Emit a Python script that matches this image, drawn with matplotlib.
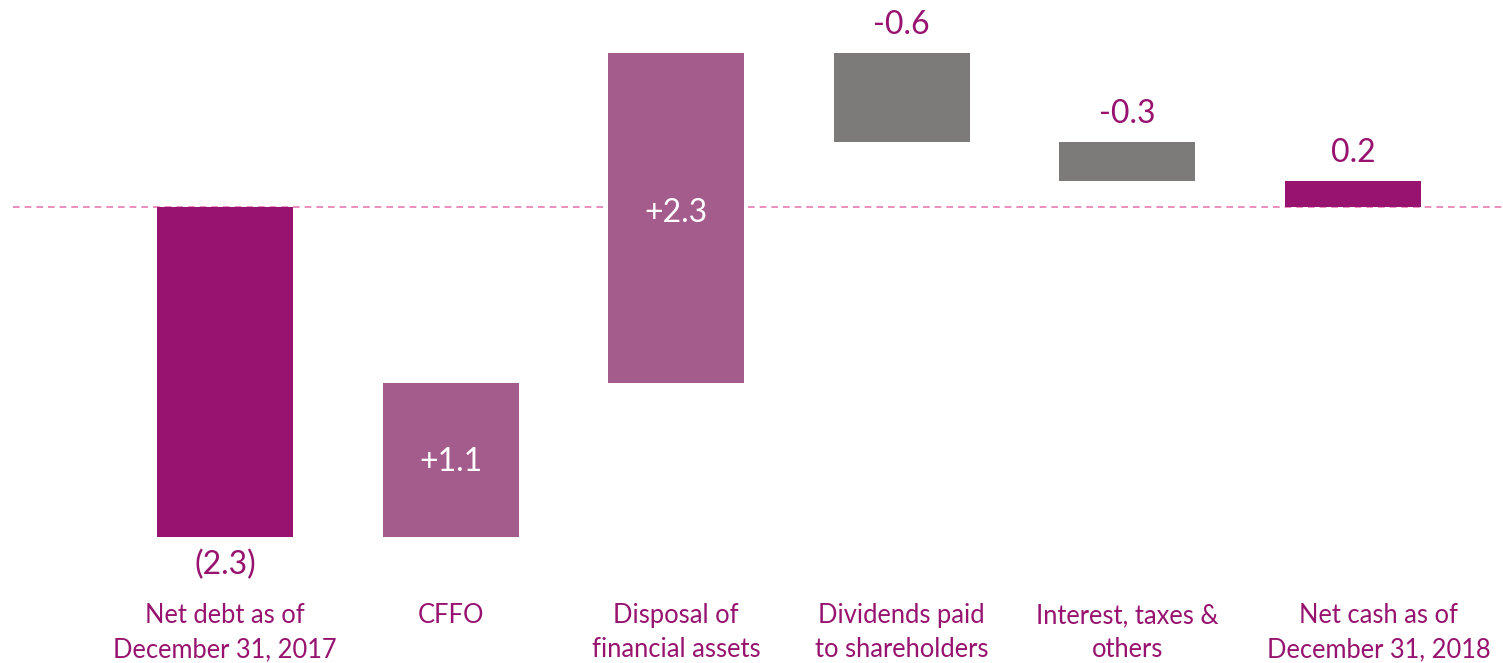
import matplotlib
matplotlib.use("Agg")
import matplotlib.pyplot as plt

categories = ["Net debt as of\nDecember 31, 2017", "CFFO", "Disposal of\nfinancial assets",
              "Dividends paid\nto shareholders", "Interest, taxes &\nothers", "Net cash as of\nDecember 31, 2018"]
changes = [-2.30, 1.07, 2.30, -0.62, -0.27, 0.18]
kinds = ["total", "delta", "delta", "delta", "delta", "total"]
value_labels = ["(2.3)", "+1.1", "+2.3", "-0.6", "-0.3", "0.2"]

DARK = "#97136F"
LIGHT = "#A45C8D"
GRAY = "#7C7B79"
PINK = "#E67DB0"

plt.rcParams['font.family'] = ['Lato', 'DejaVu Sans']

fig = plt.figure(figsize=(15.03, 6.63), dpi=100)
ax = fig.add_axes([0, 0, 1, 1])
ax.set_xlim(-0.997, 5.665)
ax.set_ylim(-3.178, 1.4425)
ax.axis("off")

ax.plot([-0.94, 5.665], [0, 0], ls=(0, (4, 3)), color=PINK, lw=1.2, zorder=1)

w = 0.603
running = 0.0
for i, (c, k, lab) in enumerate(zip(changes, kinds, value_labels)):
    if k == "total":
        bottom, top = min(0, c), max(0, c)
        color = DARK
        running = c if i == 0 else running
    else:
        start = running
        end = running + c
        bottom, top = min(start, end), max(start, end)
        color = LIGHT if c > 0 else GRAY
        running = end
    ax.bar(i, top - bottom, bottom=bottom, width=w, color=color, zorder=2)
    if k == "total" and c < 0:
        ax.text(i, bottom - 0.195, lab, ha="center", va="center", color=DARK, fontsize=23)
    elif k == "delta" and c > 0:
        ax.text(i, (bottom + top) / 2 - 0.01 + (0.05 if i == 2 else 0), lab, ha="center", va="center",
                color="white", fontsize=23, zorder=3)
    else:
        ax.text(i, top + 0.195, lab, ha="center", va="center", color=DARK, fontsize=23)

line_dy = 34 / 143.5
y_first = (207 - 616) / 143.5
for i, cat in enumerate(categories):
    xo = 0.115 if i == len(categories) - 1 else 0.0
    for j, line in enumerate(cat.split("\n")):
        ax.text(i + xo, y_first - j * line_dy, line, ha="center", va="center", color=DARK, fontsize=18.4)

fig.savefig("out.png", dpi=100)
